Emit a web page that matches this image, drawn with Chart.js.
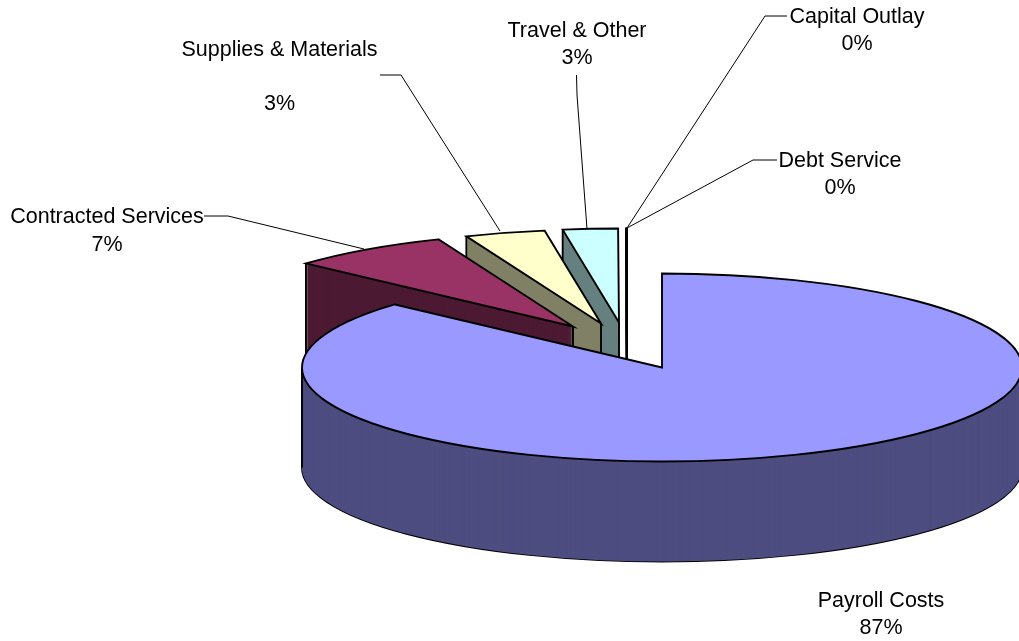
<!DOCTYPE html>
<html>
<head>
<meta charset="utf-8">
<title>Expenditures</title>
<style>
  html, body { margin: 0; padding: 0; background: #fff; }
  canvas { display: block; }
</style>
<script src="https://cdn.jsdelivr.net/npm/chart.js@4"></script>
</head>
<body>
<canvas id="chartGastos" width="1019" height="641"></canvas>
<script>
const categories = ['Payroll Costs', 'Contracted Services', 'Supplies & Materials', 'Travel & Other', 'Debt Service', 'Capital Outlay'];
const shares = [86.7, 7.2, 3.6, 2.46, 0.02, 0.02];
const percentLabels = ['87%', '7%', '3%', '3%', '0%', '0%'];

const topColors = ['#9999FF', '#993366', '#FFFFCC', '#CCFFFF', '#660066', '#FF8080'];
const wallColors = ['#4D4D80', '#4D1A33', '#808066', '#668080', '#330033', '#804040'];

// how far each slice is pulled out of the pie, in screen pixels
const explode = [[0, 0], [-89, -41], [-61, -44], [-43, -45], [-35, -45], [-35, -45]];

const pie3d = { cx: 662, cy: 367.5, rx: 360, ry: 94, depth: 100 };

// label centre x, first line middle y, line step, leader polyline
const labelLayout = [
  { x: 881, y: 601, gap: 27, blank: false, leader: null },
  { x: 107, y: 217, gap: 28, blank: false, leader: [[204, 216], [228, 216], [364, 249]] },
  { x: 279.5, y: 50, gap: 27, blank: true, leader: [[380, 75], [401, 75], [500, 231]] },
  { x: 577, y: 31, gap: 27, blank: false, leader: [[576.5, 75], [577, 95], [587, 229]] },
  { x: 840, y: 161, gap: 27, blank: false, leader: [[777, 160], [753, 160], [627, 228]] },
  { x: 857, y: 17, gap: 27, blank: false, leader: [[787, 16], [765, 16], [627, 228]] }
];

function wedgePath(ctx, cx, cy, a0, a1) {
  ctx.beginPath();
  ctx.moveTo(cx, cy);
  ctx.ellipse(cx, cy, pie3d.rx, pie3d.ry, 0, a0, a1);
  ctx.closePath();
}

function drawArcSquashed(ctx, arc, px, py, color) {
  const k = pie3d.ry / arc.outerRadius;
  const kx = pie3d.rx / arc.outerRadius;
  const opts = arc.options;
  arc.options = Object.assign({}, opts, { backgroundColor: color, borderWidth: 0 });
  ctx.save();
  ctx.translate(px, py);
  ctx.scale(kx, k);
  ctx.translate(-arc.x, -arc.y);
  arc.draw(ctx);
  ctx.restore();
  arc.options = opts;
}

function drawSlice(ctx, arc, i) {
  const [ox, oy] = explode[i];
  const cx = pie3d.cx + ox;
  const cy = pie3d.cy + oy;
  const a0 = arc.startAngle;
  const a1 = arc.endAngle;
  const d = pie3d.depth;

  wedgePath(ctx, cx, cy + d, a0, a1);
  ctx.stroke();
  for (let y = d; y > 0; y--) {
    drawArcSquashed(ctx, arc, cx, cy + y, wallColors[i]);
  }

  const verticals = [];
  if (i === 0) {
    verticals.push(0, Math.PI);
  } else {
    verticals.push(a0);
  }
  ctx.beginPath();
  verticals.forEach((a) => {
    const x = cx + pie3d.rx * Math.cos(a);
    const y = cy + pie3d.ry * Math.sin(a);
    ctx.moveTo(x, y);
    ctx.lineTo(x, y + d);
  });
  if (i !== 0) {
    ctx.moveTo(cx, cy);
    ctx.lineTo(cx, cy + d);
  }
  ctx.stroke();

  drawArcSquashed(ctx, arc, cx, cy, topColors[i]);
  wedgePath(ctx, cx, cy, a0, a1);
  ctx.stroke();
}

function drawLabels(ctx) {
  ctx.font = '21.5px "Liberation Sans", Arial, sans-serif';
  ctx.fillStyle = '#000';
  ctx.textAlign = 'center';
  ctx.textBaseline = 'middle';
  categories.forEach((name, i) => {
    const l = labelLayout[i];
    ctx.fillText(name, l.x, l.y);
    ctx.fillText(percentLabels[i], l.x, l.y + (l.blank ? l.gap * 2 : l.gap));
    if (l.leader) {
      ctx.beginPath();
      l.leader.forEach((p, j) => (j ? ctx.lineTo(p[0], p[1]) : ctx.moveTo(p[0], p[1])));
      ctx.lineWidth = 1;
      ctx.strokeStyle = '#000';
      ctx.stroke();
    }
  });
}

const pie3dPlugin = {
  id: 'pie3d',
  beforeDatasetsDraw(chart) {
    const ctx = chart.ctx;
    const arcs = chart.getDatasetMeta(0).data;
    ctx.save();
    ctx.lineWidth = 1.9;
    ctx.strokeStyle = '#000';
    ctx.lineJoin = 'miter';
    for (let i = arcs.length - 1; i >= 0; i--) {
      drawSlice(ctx, arcs[i], i);
    }
    ctx.restore();
    ctx.save();
    drawLabels(ctx);
    ctx.restore();
    return false;
  }
};

new Chart(document.getElementById('chartGastos'), {
  type: 'pie',
  data: {
    labels: categories,
    datasets: [{ data: shares, backgroundColor: topColors, borderWidth: 0 }]
  },
  options: {
    responsive: false,
    animation: false,
    layout: { padding: 0 },
    plugins: { legend: { display: false }, tooltip: { enabled: false } }
  },
  plugins: [pie3dPlugin]
});
</script>
</body>
</html>
